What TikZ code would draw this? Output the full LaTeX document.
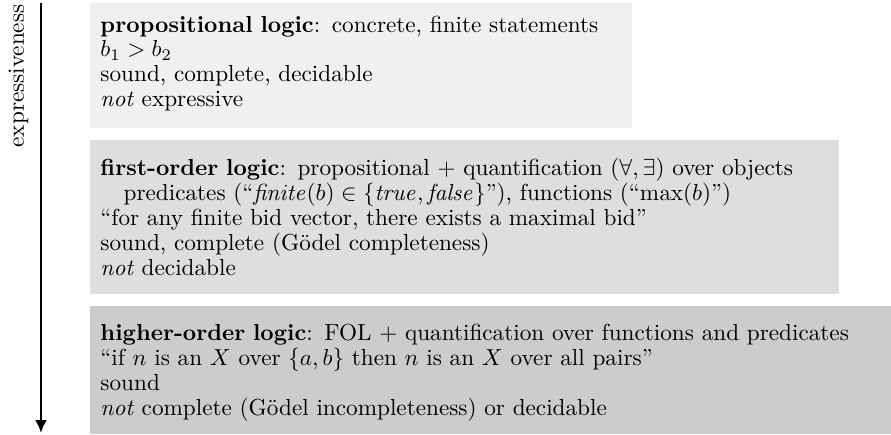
\documentclass[tikz,border=0pt]{standalone}
\usetikzlibrary{arrows.meta}
\definecolor{boxA}{gray}{0.94}
\definecolor{boxB}{gray}{0.87}
\definecolor{boxC}{gray}{0.80}
\def\k{0.431}
\begin{document}
\begin{tikzpicture}[x=\k pt,y=-\k pt,
  boxnode/.style={draw=none,inner sep=0pt,anchor=north west,rectangle},
  txt/.style={inner sep=0pt,anchor=base west,align=left,text width=360pt,
    font=\fontsize{10}{10.75}\selectfont}]
\useasboundingbox (0,0) rectangle (891,434);
% boxes
\node[boxnode,fill=boxA,minimum width={542*\k pt},minimum height={125*\k pt}] (pbox) at (90,3) {};
\node[boxnode,fill=boxB,minimum width={749*\k pt},minimum height={154*\k pt}] (fbox) at (90,140) {};
\node[boxnode,fill=boxC,minimum width={801*\k pt},minimum height={128*\k pt}] (hbox) at (90,306) {};
% texts
\node[txt] (ptxt) at (100,32) {\textbf{propositional logic}: concrete, finite statements\\
$b_1 > b_2$\\
sound, complete, decidable\\
\emph{not} expressive};
\node[txt] (ftxt) at (100,175.5) {\textbf{first-order logic}: propositional + quantification ($\forall, \exists$) over objects\\
\quad predicates (``$\mathit{finite}(b) \in \{\mathit{true}, \mathit{false}\}$''), functions (``$\max(b)$'')\\
``for any finite bid vector, there exists a maximal bid''\\
sound, complete (Gödel completeness)\\
\emph{not} decidable};
\node[txt] (htxt) at (100,340.5) {\textbf{higher-order logic}: FOL + quantification over functions and predicates\\
``if $n$ is an $X$ over $\{a,b\}$ then $n$ is an $X$ over all pairs''\\
sound\\
\emph{not} complete (Gödel incompleteness) or decidable};
% axis
\coordinate (atop) at (41,3);
\coordinate (abot) at (41,433);
\draw[line width=1.1pt,-{Latex[length=5.6pt,width=5.2pt]}] (atop) -- (abot);
\node[rotate=90,anchor=base east,inner sep=0pt] (lbl) at (24,4) {expressiveness};
\end{tikzpicture}
\end{document}
